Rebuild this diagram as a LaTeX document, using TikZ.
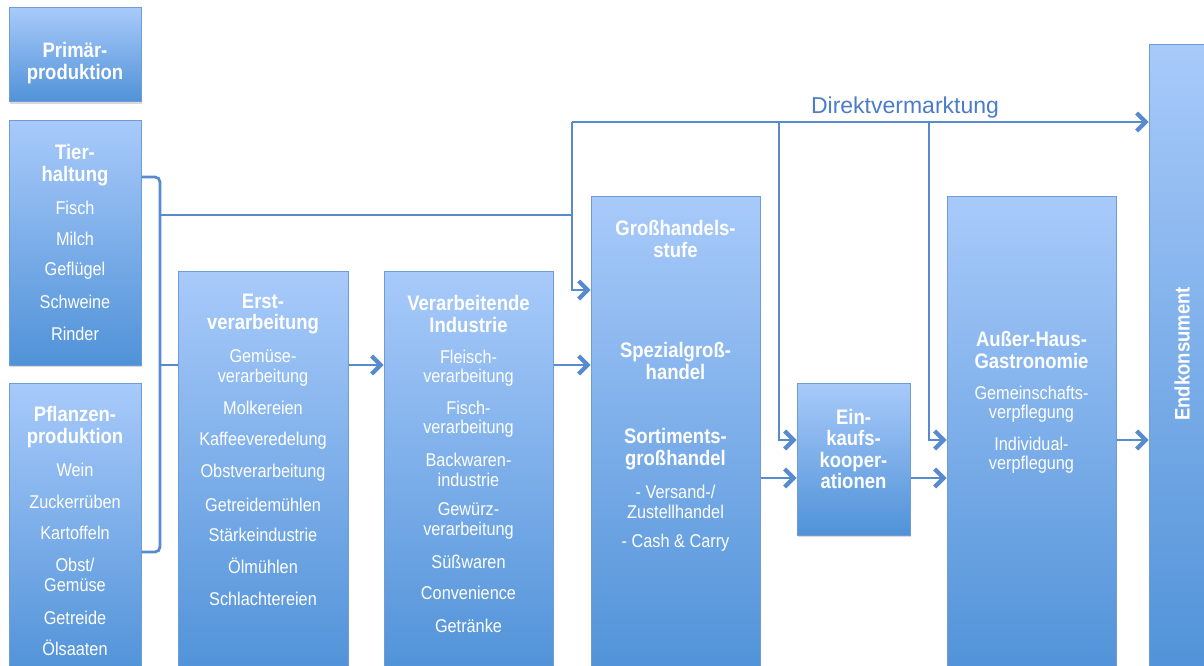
\documentclass[tikz,border=0pt]{standalone}
\usepackage{fontspec}
\setmainfont[FakeStretch=0.88]{Liberation Sans}
\newfontfamily\dvfont{Liberation Sans}
\usetikzlibrary{arrows.meta,shadows}

\definecolor{boxtop}{RGB}{168,202,250}
\definecolor{boxbot}{RGB}{80,146,216}
\definecolor{boxline}{RGB}{112,156,214}
\definecolor{flowblue}{RGB}{88,139,205}
\definecolor{dvblue}{RGB}{74,124,200}

\begin{document}
\begin{tikzpicture}[x=1pt,y=-1pt,
	stage/.style={draw=boxline, line width=1pt, top color=boxtop, bottom color=boxbot, inner sep=0pt,
		drop shadow={shadow xshift=0.5pt, shadow yshift=-2pt, opacity=0.3}},
	title/.style={text=white, font=\fontsize{21}{21.5}\selectfont\bfseries, align=center, inner sep=0pt},
	item/.style={text=white, font=\fontsize{18.5}{19.5}\selectfont, align=center, inner sep=0pt},
	flow/.style={draw=flowblue, line width=2.8pt},
	>={Straight Barb[length=9pt,width=18pt,line width=1.4pt 1]}]
	\useasboundingbox (0,0) rectangle (1204,666);
	\clip (0,0) rectangle (1204,666);

	% stages
	\node[stage, minimum width=132pt, minimum height=94pt] (prim) at (75,55) {};
	\node[stage, minimum width=132pt, minimum height=244pt] (tier) at (75,243) {};
	\node[stage, minimum width=132pt, minimum height=293pt] (pflanz) at (75,529.5) {};
	\node[stage, minimum width=170pt, minimum height=405pt] (erst) at (263,473.5) {};
	\node[stage, minimum width=169pt, minimum height=405pt] (verarb) at (468.5,473.5) {};
	\node[stage, minimum width=169pt, minimum height=480pt] (gross) at (675.5,436) {};
	\node[stage, minimum width=113pt, minimum height=152pt] (einkauf) at (853.5,459) {};
	\node[stage, minimum width=169pt, minimum height=480pt] (ausser) at (1031.5,436) {};
	\node[stage, minimum width=66pt, minimum height=631pt] (endk) at (1182,360.5) {};

	% texts
	\node[title] (prim-t) at (75,63) {Primär-\\produktion};

	\node[title] (tier-t) at (75,165) {Tier-\\haltung};
	\node[item] (tier-1) at (75,208) {Fisch};
	\node[item] (tier-2) at (75,239) {Milch};
	\node[item] (tier-3) at (75,271) {Geflügel};
	\node[item] (tier-4) at (75,302) {Schweine};
	\node[item] (tier-5) at (75,334) {Rinder};

	\node[title] (pflanz-t) at (75,427) {Pflanzen-\\produktion};
	\node[item] (pflanz-1) at (75,470) {Wein};
	\node[item] (pflanz-2) at (75,502) {Zuckerrüben};
	\node[item] (pflanz-3) at (75,533) {Kartoffeln};
	\node[item] (pflanz-4) at (75,575) {Obst/\\Gemüse};
	\node[item] (pflanz-5) at (75,618) {Getreide};
	\node[item] (pflanz-6) at (75,648) {Ölsaaten};

	\node[title] (erst-t) at (263,314) {Erst-\\verarbeitung};
	\node[item] (erst-1) at (263,368) {Gemüse-\\verarbeitung};
	\node[item] (erst-2) at (263,408) {Molkereien};
	\node[item] (erst-3) at (263,441) {Kaffeeveredelung};
	\node[item] (erst-4) at (263,473) {Obstverarbeitung};
	\node[item] (erst-5) at (263,505) {Getreidemühlen};
	\node[item] (erst-6) at (263,535) {Stärkeindustrie};
	\node[item] (erst-7) at (263,566) {Ölmühlen};
	\node[item] (erst-8) at (263,599) {Schlachtereien};

	\node[title] (verarb-t) at (468.5,314) {Verarbeitende\\Industrie};
	\node[item] (verarb-1) at (468.5,368) {Fleisch-\\verarbeitung};
	\node[item] (verarb-2) at (468.5,419) {Fisch-\\verarbeitung};
	\node[item] (verarb-3) at (468.5,470) {Backwaren-\\industrie};
	\node[item] (verarb-4) at (468.5,521) {Gewürz-\\verarbeitung};
	\node[item] (verarb-5) at (468.5,562) {Süßwaren};
	\node[item] (verarb-6) at (468.5,593) {Convenience};
	\node[item] (verarb-7) at (468.5,626) {Getränke};

	\node[title] (gross-t) at (675.5,239) {Großhandels-\\stufe};
	\node[title] (gross-1) at (675.5,361) {Spezialgroß-\\handel};
	\node[title] (gross-2) at (675.5,449) {Sortiments-\\großhandel};
	\node[item] (gross-3) at (675.5,502) {- Versand-/\\Zustellhandel};
	\node[item] (gross-4) at (675.5,543) {- Cash \& Carry};

	\node[title] (einkauf-t) at (853.5,449) {Ein-\\kaufs-\\kooper-\\ationen};

	\node[title] (ausser-t) at (1031.5,350) {Außer-Haus-\\Gastronomie};
	\node[item] (ausser-1) at (1031.5,404) {Gemeinschafts-\\verpflegung};
	\node[item] (ausser-2) at (1031.5,455) {Individual-\\verpflegung};

	\node[title, rotate=90] (endk-t) at (1182,354) {Endkonsument};

	\node[text=dvblue, font=\dvfont\fontsize{23}{23}\selectfont, inner sep=0pt] (dv-t) at (905,107.5) {Direktvermarktung};

	% connectors
	\coordinate (brtop) at (160,177);
	\coordinate (brbot) at (160,552);
	\coordinate (brtip) at (160,365);
	\coordinate (split) at (572,215);
	\coordinate (dv) at (572,122);
	\coordinate (gin) at (572,290);
	\coordinate (dk1) at (779,122);
	\coordinate (dk2) at (929,122);
	\coordinate (row2) at (0,440);
	\coordinate (row3) at (0,478);

	\draw[flow, rounded corners=5pt] (tier.east |- brtop) -- (brtop) -- (brbot) -- (pflanz.east |- brbot);
	\draw[flow] (brtip) -- (erst.west |- brtip);
	\draw[flow] (brtop |- split) -- (split);
	\draw[flow, ->] (erst.east |- brtip) -- (verarb.west |- brtip);
	\draw[flow, ->] (verarb.east |- brtip) -- (gross.west |- brtip);
	\draw[flow, ->] (dv) -- (gin) -- (gross.west |- gin);
	\draw[flow, ->] (dv) -- (endk.west |- dv);
	\draw[flow, ->] (dk1) |- (einkauf.west |- row2);
	\draw[flow, ->] (dk2) |- (ausser.west |- row2);
	\draw[flow, ->] (gross.east |- row3) -- (einkauf.west |- row3);
	\draw[flow, ->] (einkauf.east |- row3) -- (ausser.west |- row3);
	\draw[flow, ->] (ausser.east |- row2) -- (endk.west |- row2);
\end{tikzpicture}
\end{document}
